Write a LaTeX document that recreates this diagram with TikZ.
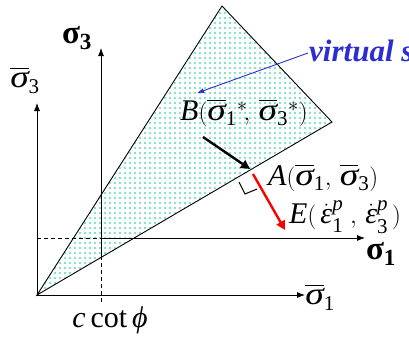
\documentclass[tikz,border=0pt]{standalone}
\usepackage{amsmath}
\usepackage{graphicx}
\usepackage{fontspec}
\setmainfont{Liberation Serif}
\usetikzlibrary{arrows.meta,patterns.meta}
\definecolor{dotc}{RGB}{0,200,150}
\definecolor{vblue}{RGB}{45,45,210}
\newcommand\ts[1]{\text{\itshape #1}}
\newcommand\sbr{\overline{\text{\itshape\scalebox{1.25}[1.05]{σ}}}}
\newcommand\edot{\dot{\ts{ε}}}
\begin{document}
\begin{tikzpicture}[x=1pt,y=-1pt,
  axis/.style={line width=0.8pt,-{Latex[length=8pt,width=6pt]}},
  dsh/.style={line width=0.8pt,dash pattern=on 4pt off 3pt},
  lbl/.style={inner sep=0pt,font=\fontsize{30}{32}\selectfont},
  bold/.style={inner sep=0pt,font=\fontsize{33}{35}\selectfont\bfseries},
  thickarrow/.style={line width=2.4pt,-{Triangle[length=9pt,width=9pt]}}]
\useasboundingbox (0,0) rectangle (409,338);
\clip (0,0) rectangle (409,338);
% triangle (yield region)
\coordinate (O) at (37,295);
\coordinate (T) at (222,6);
\coordinate (R) at (332,122);
\fill[pattern={Dots[distance=5pt,radius=0.8pt]},pattern color=dotc] (O) -- (T) -- (R) -- cycle;
\draw[line width=0.9pt] (O) -- (T) -- (R) -- cycle;
% bar axes
\coordinate (X1b) at (305,295);
\coordinate (X3b) at (37,103);
\draw[axis] (O) -- (X1b);
\draw[axis] (O) -- (X3b);
% sigma axes
\coordinate (Cb) at (101,302);
\coordinate (Cm) at (101,258);
\coordinate (C3) at (101,48);
\coordinate (H0) at (37,238);
\coordinate (H1) at (101,238);
\coordinate (C1) at (365,238);
\draw[dsh] (Cb) -- (Cm);
\draw[axis] (Cm) -- (C3);
\draw[dsh] (H0) -- (H1);
\draw[axis] (H1) -- (C1);
% labels on axes
\node[bold] (s3) at (77,38) {σ\textsubscript{3}};
\node[lbl] (s3b) at (25,80) {$\sbr_{\text{3}}$};
\node[bold] (s1) at (381,254) {σ\textsubscript{1}};
\node[lbl] (s1b) at (320,297) {$\sbr_{\text{1}}$};
\node[lbl] (cc) at (110,320) {\textit{c}\,cot\,\textit{ϕ}};
% points
\node[lbl,anchor=west] (B) at (180,113) {$\ts{B}(\sbr_{\text{1}}{}^{*}\!,\,\sbr_{\text{3}}{}^{*})$};
\node[lbl,anchor=west] (A) at (268,178) {$\ts{A}(\sbr_{\text{1}},\,\sbr_{\text{3}})$};
\node[lbl,anchor=west] (E) at (289,217) {$\ts{E}(\,\edot_{\text{1}}^{\ts{p}}\;,\,\edot_{\text{3}}^{\ts{p}}\,)$};
% virtual stress
\node[inner sep=0pt,anchor=west,text=vblue,font=\fontsize{31}{34}\selectfont\bfseries\itshape] (V) at (309,51) {virtual s};
\coordinate (Vs) at (308,53);
\coordinate (Ve) at (197,93);
\draw[vblue,line width=0.9pt,-{Latex[length=7pt,width=5pt]}] (Vs) -- (Ve);
% arrows
\coordinate (Bs) at (203,137);
\coordinate (Be) at (250,169);
\draw[thickarrow] (Bs) -- (Be);
\coordinate (Es) at (253,174);
\coordinate (Ee) at (285,230);
\draw[thickarrow,red] (Es) -- (Ee);
% right angle mark
\coordinate (Q1) at (239,182);
\coordinate (Q2) at (245,194);
\coordinate (Q3) at (257,189);
\draw[line width=1pt] (Q1) -- (Q2) -- (Q3);
\end{tikzpicture}
\end{document}
